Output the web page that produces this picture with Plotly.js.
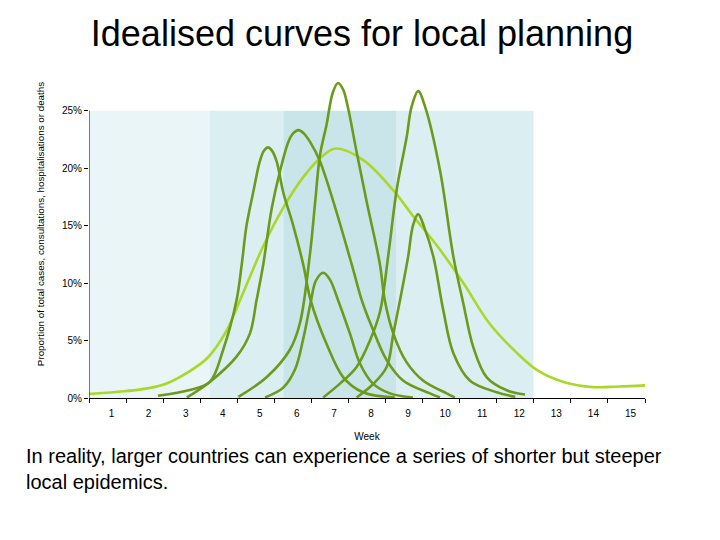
<!DOCTYPE html>
<html>
<head>
<meta charset="utf-8">
<script src="https://cdn.plot.ly/plotly-3.0.1.min.js"></script>
<style>html,body{margin:0;padding:0;background:#fff;}#chart{width:720px;height:540px;}</style>
</head>
<body>
<div id="chart"></div>
<script>
// Tick labels (weeks)
var weeks = [1,2,3,4,5,6,7,8,9,10,11,12,13,14,15];
var yTicks = [0,5,10,15,20,25];

// Background bands (week units)
var bandStart = [0.5, 3.76, 5.74, 8.80];
var bandEnd   = [3.76, 5.74, 8.80, 12.49];
var bandTop   = [25, 25, 25, 25];
var bandColor = ['#E9F5F7', '#DBEEF1', '#C9E5E9', '#DBEEF1'];

// National idealised curve (light green)
var natX = [0.5, 1.3, 1.9, 2.5, 3.2, 3.7, 4.2, 4.6, 5.2, 5.75, 6.3, 6.75, 7.15, 7.9, 8.7, 9.25, 9.9, 10.6, 11.3, 12.05, 12.6, 13.3, 14.1, 14.8, 15.5];
var natY = [0.35, 0.55, 0.75, 1.15, 2.3, 3.5, 5.8, 8.7, 13.2, 16.6, 19.3, 20.9, 21.7, 20.7, 18.1, 15.8, 13.2, 10.0, 6.5, 3.9, 2.4, 1.4, 0.95, 1.0, 1.1];

// Local epidemic curves (dark green)
var aX = [2.36, 3.22, 3.76, 4.12, 4.48, 4.62, 4.75, 4.93, 5.11, 5.22, 5.33, 5.44, 5.56, 5.74, 6.01, 6.28, 6.48, 6.91, 7.36, 7.89, 8.75];
var aY = [0.2, 0.7, 1.4, 4.2, 8.5, 11.6, 15.0, 17.9, 20.6, 21.5, 21.8, 21.5, 20.6, 17.9, 15.0, 11.6, 8.5, 4.7, 1.8, 0.5, 0.05];

var bX = [3.14, 3.76, 4.48, 4.84, 5.02, 5.20, 5.43, 5.65, 5.88, 6.00, 6.15, 6.30, 6.46, 6.73, 7.09, 7.59, 7.86, 8.13, 8.53, 8.98, 9.70, 9.97];
var bY = [0.05, 1.4, 3.6, 5.6, 8.5, 11.6, 16.5, 19.7, 22.3, 23.0, 23.3, 23.0, 22.3, 20.6, 17.1, 11.6, 8.5, 6.2, 3.3, 1.5, 0.4, 0.05];

var cX = [4.53, 5.29, 5.92, 6.19, 6.46, 6.60, 6.73, 6.91, 7.08, 7.22, 7.36, 7.49, 7.72, 7.99, 8.35, 8.48, 8.71, 9.07, 9.52, 10.15, 10.37];
var cY = [0.1, 1.8, 4.2, 6.5, 12.5, 17.0, 21.1, 23.8, 26.6, 27.4, 26.8, 25.2, 21.4, 17.1, 11.6, 8.5, 5.6, 3.1, 1.5, 0.4, 0.05];

var fX = [5.25, 5.74, 6.06, 6.27, 6.48, 6.62, 6.82, 7.00, 7.22, 7.54, 7.81, 8.16, 8.62, 9.24];
var fY = [0.05, 0.9, 2.5, 5.0, 8.3, 10.2, 10.9, 10.3, 8.5, 5.6, 3.0, 1.25, 0.4, 0.05];

var dX = [6.82, 7.27, 7.72, 8.08, 8.35, 8.57, 8.80, 9.07, 9.20, 9.38, 9.58, 9.97, 10.33, 10.60, 10.87, 11.23, 11.77, 12.26];
var dY = [0.05, 1.25, 2.7, 5.0, 7.5, 12.3, 18.1, 22.7, 25.3, 26.7, 25.2, 19.8, 12.3, 8.2, 4.4, 1.8, 0.67, 0.3];

var eX = [7.72, 8.16, 8.53, 8.71, 8.89, 9.11, 9.24, 9.38, 9.55, 9.79, 10.06, 10.33, 10.78, 11.50, 12.0];
var eY = [0.05, 1.2, 2.7, 5.6, 8.5, 12.3, 15.0, 16.0, 14.8, 12.3, 7.6, 3.9, 1.5, 0.5, 0.1];

var localCurves = [[aX,aY],[bX,bY],[cX,cY],[fX,fY],[dX,dY],[eX,eY]];

var darkGreen = '#6C9A1C';
var lightGreen = '#A9D82B';

var bandCenters = bandStart.map(function(s,i){return (s + bandEnd[i]) / 2;});
var bandWidths = bandStart.map(function(s,i){return bandEnd[i] - s;});

var traces = [{
  type: 'bar', x: bandCenters, y: bandTop, width: bandWidths,
  marker: {color: bandColor, line: {width: 0}}, hoverinfo: 'skip', showlegend: false
}];

traces.push({
  type: 'scatter', mode: 'lines', x: natX, y: natY,
  line: {color: lightGreen, width: 2.6, shape: 'spline', smoothing: 1},
  showlegend: false, hoverinfo: 'skip'
});
localCurves.forEach(function(c){
  traces.push({
    type: 'scatter', mode: 'lines', x: c[0], y: c[1],
    line: {color: darkGreen, width: 2.6, shape: 'spline', smoothing: 1},
    showlegend: false, hoverinfo: 'skip'
  });
});

var plotL = 89, plotR = 645, plotT = 75, plotB = 397.7;
function px2paperX(px){ return (px - plotL) / (plotR - plotL); }
function px2paperY(py){ return (plotB - py) / (plotB - plotT); }

var layout = {
  width: 720, height: 540,
  margin: {l: plotL, r: 720 - plotR, t: plotT, b: 540 - plotB, pad: 0},
  paper_bgcolor: '#ffffff', plot_bgcolor: '#ffffff',
  font: {family: 'Liberation Sans, Arial, sans-serif', color: '#000000'},
  title: {text: 'Idealised curves for local planning', font: {size: 36, color: '#000'},
          xref: 'container', x: 362/720, xanchor: 'center', yref: 'container', y: 1 - 33/540, yanchor: 'middle'},
  barmode: 'overlay',
  xaxis: {
    range: [0.5, 15.5], tickmode: 'array', tickvals: weeks, ticktext: weeks.map(String),
    ticks: '', showgrid: false, zeroline: false, showline: true, linecolor: '#000', linewidth: 1,
    tickfont: {size: 10}, ticklabelshift: 4, ticklabelstandoff: 6,
    minor: {tickmode: 'array', tickvals: weeks.map(function(w){return w - 0.5;}).concat([15.5]), ticks: 'outside', ticklen: 4, tickcolor: '#000', tickwidth: 1, showgrid: false},
    title: {text: 'Week', font: {size: 10}, standoff: 14},
    fixedrange: true
  },
  yaxis: {
    range: [0, 28.1], tickmode: 'array', tickvals: yTicks, ticktext: yTicks.map(function(v){return v + '%';}),
    ticks: 'outside', ticklen: 4, tickcolor: '#000', showgrid: false, zeroline: false, showline: false,
    tickfont: {size: 10},
    fixedrange: true
  },
  shapes: [{
    type: 'line', xref: 'x', yref: 'y', x0: 0.5, x1: 0.5, y0: 0, y1: yTicks[yTicks.length-1],
    line: {color: '#000', width: 1}, layer: 'above'
  }],
  annotations: [{
    xref: 'paper', yref: 'paper', x: px2paperX(40), y: px2paperY(224),
    xanchor: 'center', yanchor: 'middle', textangle: -90, showarrow: false,
    text: 'Proportion of total cases, consultations, hospitalisations or deaths',
    font: {size: 9.8, color: '#000'}
  }, {
    xref: 'paper', yref: 'paper', x: px2paperX(24), y: px2paperY(469),
    xanchor: 'left', yanchor: 'middle', align: 'left', showarrow: false,
    text: 'In reality, larger countries can experience a series of shorter but steeper<br>local epidemics.',
    font: {size: 20, color: '#000'}
  }]
};

Plotly.newPlot('chart', traces, layout, {displayModeBar: false, staticPlot: true});
</script>
</body>
</html>
